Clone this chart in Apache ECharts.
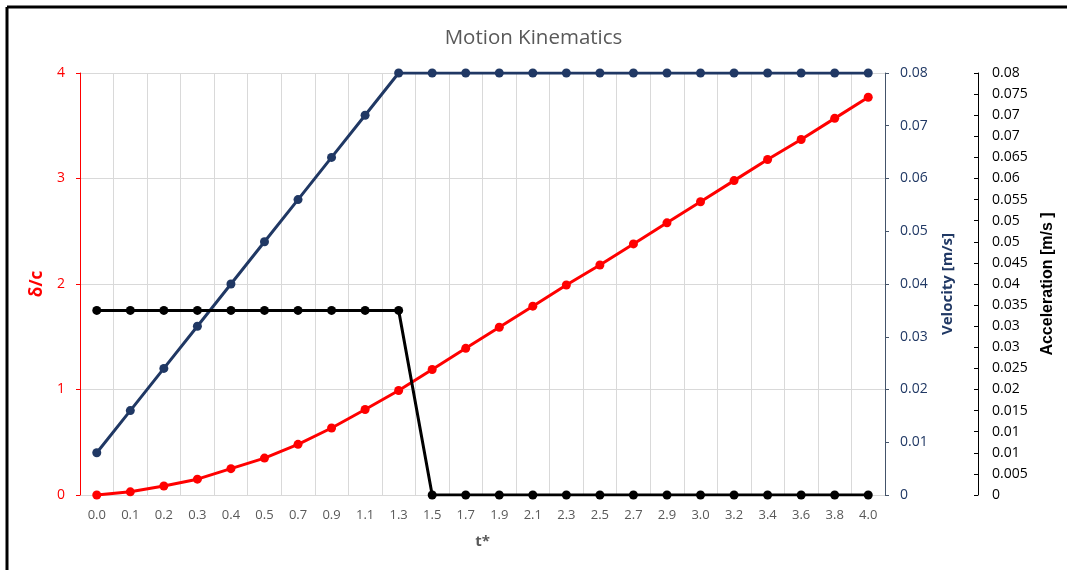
<!DOCTYPE html>
<html>
<head>
<meta charset="utf-8">
<script src="https://cdn.jsdelivr.net/npm/echarts@6/dist/echarts.min.js"></script>
<style>
  html, body { margin: 0; padding: 0; background: #fff; }
  #chart { width: 1067px; height: 570px; }
</style>
</head>
<body>
<div id="chart"></div>
<script>
// Dimensionless time samples
const tStar = ['0.0','0.1','0.2','0.3','0.4','0.5','0.7','0.9','1.1','1.3','1.5','1.7','1.9','2.1','2.3','2.5','2.7','2.9','3.0','3.2','3.4','3.6','3.8','4.0'];
// Normalised displacement δ/c
const displacement = [0, 0.03, 0.085, 0.15, 0.25, 0.35, 0.48, 0.635, 0.81, 0.99, 1.19, 1.39, 1.59, 1.79, 1.99, 2.18, 2.38, 2.58, 2.78, 2.98, 3.18, 3.37, 3.57, 3.77];
// Velocity [m/s]
const velocity = [0.008, 0.016, 0.024, 0.032, 0.040, 0.048, 0.056, 0.064, 0.072, 0.080, 0.080, 0.080, 0.080, 0.080, 0.080, 0.080, 0.080, 0.080, 0.080, 0.080, 0.080, 0.080, 0.080, 0.080];
// Acceleration [m/s²]
const acceleration = [0.035, 0.035, 0.035, 0.035, 0.035, 0.035, 0.035, 0.035, 0.035, 0.035, 0, 0, 0, 0, 0, 0, 0, 0, 0, 0, 0, 0, 0, 0];

const FONT = 'Open Sans';
const RED = '#FF0000';
const NAVY = '#203864';
const GRAY = '#595959';

// acceleration tick labels are shown to the nearest 0.005
function accelLabel(v) {
  const r = Math.round(v / 0.005 + 1e-9) * 0.005;
  return r === 0 ? '0' : String(parseFloat(r.toFixed(3)));
}

const chart = echarts.init(document.getElementById('chart'));
chart.setOption({
  backgroundColor: '#fff',
  animation: false,
  title: {
    text: 'Motion Kinematics',
    left: 'center',
    top: 23,
    textStyle: { fontFamily: FONT, fontSize: 20.5, fontWeight: 'normal', color: GRAY }
  },
  graphic: [
    { type: 'line', shape: { x1: 7, y1: 7, x2: 1067, y2: 7 }, style: { stroke: '#000', lineWidth: 3 } },
    { type: 'line', shape: { x1: 7, y1: 7, x2: 7, y2: 570 }, style: { stroke: '#000', lineWidth: 3 } }
  ],
  grid: { left: 80, right: 182, top: 73, bottom: 75, containLabel: false },
  xAxis: {
    type: 'category',
    data: tStar,
    boundaryGap: true,
    name: 't*',
    nameLocation: 'middle',
    nameGap: 39,
    nameTextStyle: { fontFamily: FONT, fontSize: 15, fontWeight: 'bold', color: GRAY },
    axisLine: { show: false },
    axisTick: { show: false },
    axisLabel: { fontFamily: FONT, fontSize: 13, color: GRAY, margin: 14, interval: 0 },
    splitLine: { show: true, interval: 0, lineStyle: { color: '#D9D9D9', width: 1 } }
  },
  yAxis: [
    {
      type: 'value', min: 0, max: 4, interval: 1, position: 'left',
      name: 'δ/c', nameLocation: 'middle', nameGap: 32, nameRotate: 90,
      nameTextStyle: { fontFamily: FONT, fontSize: 17, fontWeight: 'bold', color: RED },
      axisLine: { show: true, lineStyle: { color: RED, width: 1 } },
      axisTick: { show: true, length: 4, lineStyle: { color: RED } },
      axisLabel: { fontFamily: FONT, fontSize: 14, color: RED, margin: 15 },
      splitLine: { show: true, lineStyle: { color: '#D9D9D9', width: 1 } }
    },
    {
      type: 'value', min: 0, max: 0.08, interval: 0.01, position: 'right',
      name: 'Velocity [m/s]', nameLocation: 'middle', nameGap: 55, nameRotate: 90,
      nameTextStyle: { fontFamily: FONT, fontSize: 15, fontWeight: 'bold', color: NAVY },
      axisLine: { show: true, lineStyle: { color: '#44546A', width: 1 } },
      axisTick: { show: true, length: 4, lineStyle: { color: '#44546A' } },
      axisLabel: { fontFamily: FONT, fontSize: 14, color: NAVY, margin: 15,
        formatter: v => v === 0 ? '0' : String(parseFloat(v.toFixed(2))) },
      splitLine: { show: false }
    },
    {
      type: 'value', min: 0, max: 0.08, interval: 0.004, position: 'right', offset: 93,
      name: 'Acceleration [m/s ]', nameLocation: 'middle', nameGap: 62, nameRotate: 90,
      nameTextStyle: { fontFamily: 'Liberation Sans', fontSize: 16, fontWeight: 'bold', color: '#000' },
      axisLine: { show: true, lineStyle: { color: '#000', width: 1 } },
      axisTick: { show: true, inside: true, length: 4, lineStyle: { color: '#000' } },
      axisLabel: { fontFamily: FONT, fontSize: 14, color: '#000', margin: 14, formatter: accelLabel },
      splitLine: { show: false }
    }
  ],
  series: [
    {
      name: 'δ/c', type: 'line', yAxisIndex: 0, data: displacement,
      symbol: 'circle', symbolSize: 9,
      lineStyle: { color: RED, width: 3 }, itemStyle: { color: RED }
    },
    {
      name: 'Velocity', type: 'line', yAxisIndex: 1, data: velocity,
      symbol: 'circle', symbolSize: 9,
      lineStyle: { color: NAVY, width: 3 }, itemStyle: { color: NAVY }
    },
    {
      name: 'Acceleration', type: 'line', yAxisIndex: 2, data: acceleration,
      symbol: 'circle', symbolSize: 9,
      lineStyle: { color: '#000', width: 3 }, itemStyle: { color: '#000' }
    }
  ]
});
</script>
</body>
</html>
